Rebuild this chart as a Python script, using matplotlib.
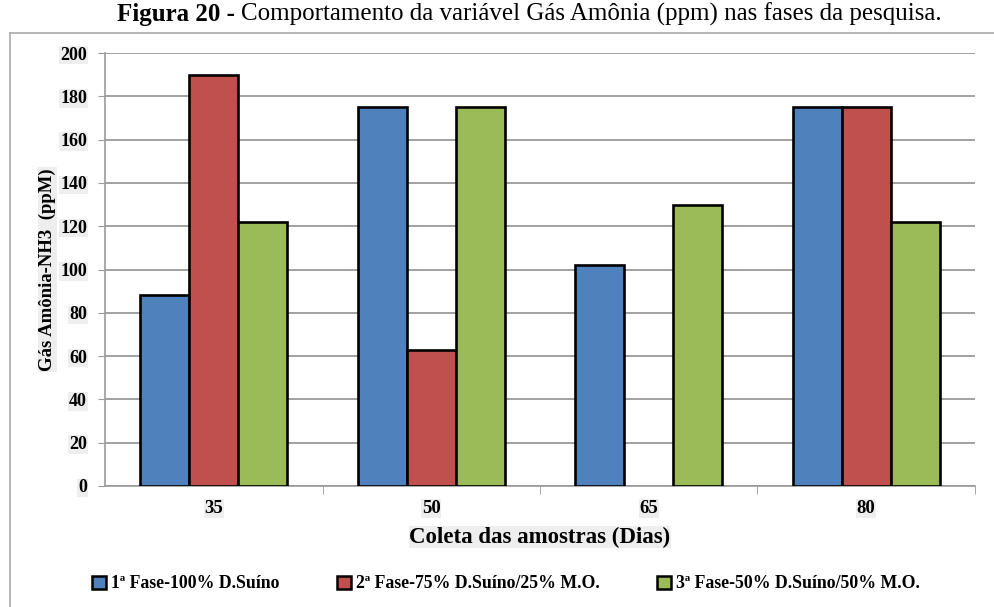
import numpy as np
import matplotlib
matplotlib.use("Agg")
import matplotlib.pyplot as plt
from matplotlib.lines import Line2D
from matplotlib.patches import Patch

categories = ["35", "50", "65", "80"]
series_names = ["1ª Fase-100% D.Suíno", "2ª Fase-75% D.Suíno/25% M.O.", "3ª Fase-50% D.Suíno/50% M.O."]
fase1 = [88, 175, 102, 175]
fase2 = [190, 63, 0, 175]
fase3 = [122, 175, 130, 122]
yticks = [0, 20, 40, 60, 80, 100, 120, 140, 160, 180, 200]

colors = ["#4F81BD", "#C0504D", "#9BBB59"]
W, H = 994, 607
fig = plt.figure(figsize=(W / 100, H / 100), dpi=100)
serif = ["Liberation Serif", "DejaVu Serif"]
plt.rcParams["font.family"] = serif

ax = fig.add_axes([105 / W, 1 - 486 / H, (975 - 105) / W, (486 - 53) / H])

x = np.arange(len(categories))
w = 0.225
for i, (vals, c, name) in enumerate(zip([fase1, fase2, fase3], colors, series_names)):
    lws = [1.9 if v > 0 else 0 for v in vals]
    ax.bar(x + (i - 1) * w, vals, width=w, color=c, edgecolor="black",
           linewidth=lws, zorder=3, label=name)

ax.set_xlim(-0.5, len(categories) - 0.5)
ax.set_ylim(0, 200)
ax.set_yticks(yticks)
ax.set_yticklabels([str(v) for v in yticks], fontsize=13, fontweight="bold")
ax.set_xticks(x)
ax.set_xticklabels(categories, fontsize=13.5, fontweight="bold")
ax.set_xticks(np.arange(0.5, len(categories), 1.0), minor=True)
ax.tick_params(axis="x", which="major", length=0, pad=10)
ax.tick_params(axis="x", which="minor", length=6, color="#999999", direction="out")
ax.tick_params(axis="y", which="major", length=5, color="#999999", direction="out", pad=8)
for lab in ax.get_yticklabels() + ax.get_xticklabels():
    lab.set_bbox(dict(facecolor="#eeeeee", edgecolor="none", pad=0.5))

ax.grid(axis="y", color="#9a9a9a", linewidth=1.3, zorder=0)
ax.set_axisbelow(True)
for s in ["top", "right"]:
    ax.spines[s].set_visible(False)
ax.spines["left"].set_color("#999999")
ax.spines["bottom"].set_color("#999999")
ax.spines["left"].set_linewidth(1.2)
ax.spines["bottom"].set_linewidth(1.2)

ax.set_xlabel("Coleta das amostras (Dias)", fontsize=16.5, fontweight="bold", labelpad=7,
              bbox=dict(facecolor="#eeeeee", edgecolor="none", pad=0.5))
ax.set_ylabel("Gás Amônia-NH3  (ppM)", fontsize=13.5, fontweight="bold", labelpad=3,
              bbox=dict(facecolor="#eeeeee", edgecolor="none", pad=0.5))

handles = [Patch(facecolor=c, edgecolor="black", linewidth=1.8) for c in colors]
fig.legend(handles, series_names, loc="center", bbox_to_anchor=(506 / W, 1 - 584 / H),
           ncol=3, frameon=False, handlelength=0.8, handleheight=0.8, handletextpad=0.3,
           columnspacing=3.2, prop=dict(family=serif, weight="bold", size=12.8))

# outer chart frame
fig.add_artist(Line2D([10 / W, 10 / W], [0, 1 - 33 / H], transform=fig.transFigure, color="#aaaaaa", lw=1.2))
fig.add_artist(Line2D([10 / W, 1], [1 - 33 / H, 1 - 33 / H], transform=fig.transFigure, color="#aaaaaa", lw=1.2))

# title in two parts
ty = 1 - 14 / H
t1 = fig.text(117 / W, ty, "Figura 20 - ", fontsize=18, fontweight="bold", va="center", ha="left")
fig.canvas.draw()
r = fig.canvas.get_renderer()
bb = t1.get_window_extent(r)
t2 = fig.text(bb.x1 / W, ty, "Comportamento da variável Gás Amônia (ppm) nas fases da pesquisa.",
              fontsize=18, va="center", ha="left")

fig.savefig("out.png", dpi=100)
